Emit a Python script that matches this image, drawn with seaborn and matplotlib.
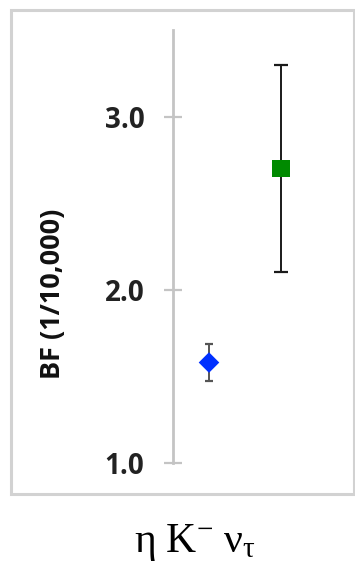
import matplotlib
matplotlib.use("Agg")
import matplotlib.pyplot as plt
import seaborn as sns
import pandas as pd
from matplotlib.patches import Rectangle

# ---- data ----
categories = ["Result A", "Result B"]
bf_values = [1.58, 2.70]
bf_errors = [0.105, 0.60]
y_ticks = [1.0, 2.0, 3.0]
y_label = "BF (1/10,000)"
x_label = r"$\mathrm{\eta\ K^{-}\ \nu_{\tau}}$"

# ---- styles ----
marker_colors = ["#0030ff", "#008a00"]
marker_shapes = ["D", "s"]
marker_sizes = [110, 165]
err_colors = ["#555555", "#1a1a1a"]
err_caps = [3.2, 4.7]

sns.set_theme(style="white")
plt.rcParams["font.family"] = ["Open Sans", "DejaVu Sans"]
plt.rcParams["mathtext.fontset"] = "custom"
plt.rcParams["mathtext.rm"] = "Liberation Serif"
plt.rcParams["mathtext.it"] = "Liberation Serif:italic"

df = pd.DataFrame({"cat": categories, "bf": bf_values, "err": bf_errors})

W, H = 355, 564
fig = plt.figure(figsize=(W / 100, H / 100), dpi=100)
fig.patch.set_facecolor("white")

# axes: spine at x=173px, y from 463px (1.0) up to 30px (3.5)
ax = fig.add_axes([173 / W, (H - 463) / H, 180 / W, 433 / H])
ax.set_facecolor("white")

# error bars first (behind markers)
for i, row in df.iterrows():
    ax.errorbar([row["cat"]], [row["bf"]], yerr=[row["err"]], fmt="none",
                ecolor=err_colors[i], elinewidth=1.4, capsize=err_caps[i],
                capthick=1.6, zorder=2)

sns.scatterplot(data=df, x="cat", y="bf", hue="cat", style="cat", size="cat",
                palette=dict(zip(categories, marker_colors)),
                markers=dict(zip(categories, marker_shapes)),
                sizes=dict(zip(categories, marker_sizes)),
                linewidth=0, legend=False, ax=ax, zorder=3)

ax.set_xlim(-0.5, 2.0)
ax.set_ylim(1.0, 3.5)
ax.set_yticks(y_ticks)
ax.set_yticklabels([f"{t:.1f}" for t in y_ticks], fontsize=20,
                   fontweight="bold", color="#222222")
ax.tick_params(axis="y", direction="inout", length=13, width=1.6,
               color="#c4c4c4", pad=14, left=True)
ax.tick_params(axis="x", bottom=False, labelbottom=False)

for s in ["top", "right", "bottom"]:
    ax.spines[s].set_visible(False)
ax.spines["left"].set_color("#c4c4c4")
ax.spines["left"].set_linewidth(2.0)
ax.grid(False)

ax.set_ylabel(y_label, fontsize=19.5, fontweight="bold", color="#111111")
ax.yaxis.label.set_va("center")
ax.yaxis.set_label_coords((53 - 173) / 180, (463 - 294) / 433)

ax.set_xlabel(x_label, fontsize=30, color="black")
ax.xaxis.label.set_va("baseline")
ax.xaxis.set_label_coords((195 - 173) / 180, (463 - 552) / 433)

# chart-area frame
fig.add_artist(Rectangle((11 / W, (H - 493.5) / H), 343 / W, 484 / H,
                         transform=fig.transFigure, fill=False,
                         edgecolor="#d2d2d2", linewidth=2.2))

fig.savefig("out.png", dpi=100, facecolor="white")
